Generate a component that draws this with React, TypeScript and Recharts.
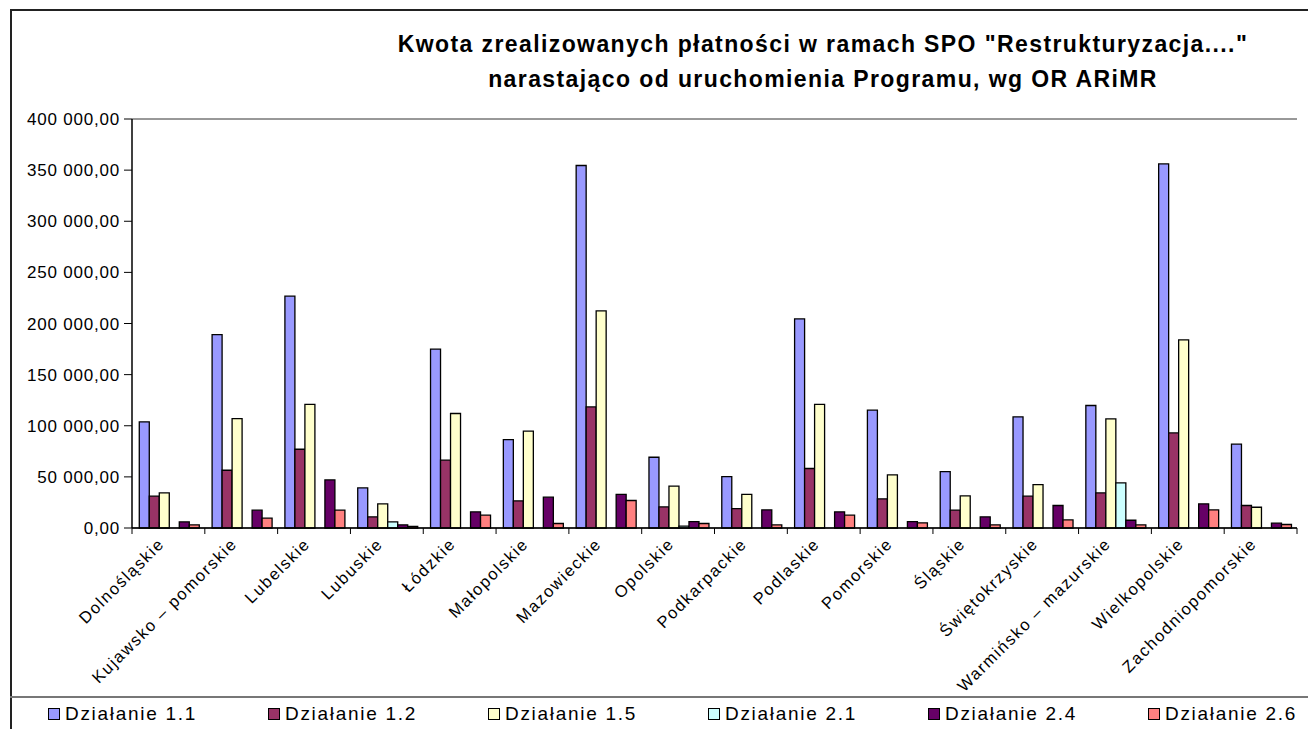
import React from 'react';
import { BarChart, Bar, XAxis, YAxis, CartesianGrid } from 'recharts';

const categories = [
  'Dolnośląskie', 'Kujawsko – pomorskie', 'Lubelskie', 'Lubuskie', 'Łódzkie',
  'Małopolskie', 'Mazowieckie', 'Opolskie', 'Podkarpackie', 'Podlaskie',
  'Pomorskie', 'Śląskie', 'Świętokrzyskie', 'Warmińsko – mazurskie',
  'Wielkopolskie', 'Zachodniopomorskie',
];

const dzialanie11 = [103800, 189200, 226700, 39200, 174900, 86500, 354500, 69200, 50300, 204500, 115200, 55200, 108700, 119800, 356100, 82000];
const dzialanie12 = [31100, 56500, 77000, 10900, 66300, 26500, 118400, 20600, 19000, 58200, 28500, 17400, 31100, 34300, 93000, 22000];
const dzialanie15 = [34300, 107000, 121000, 23600, 112000, 94700, 212300, 40900, 32800, 121000, 52000, 31400, 42500, 106700, 184000, 20300];
const dzialanie21 = [0, 0, 0, 6000, 0, 0, 0, 1800, 0, 0, 0, 0, 0, 44100, 0, 0];
const dzialanie24 = [6000, 17400, 47000, 3100, 15800, 30100, 32800, 6300, 17700, 15800, 6300, 10900, 22000, 7600, 23600, 4700];
const dzialanie26 = [3100, 9600, 17400, 1500, 12500, 4400, 26900, 4400, 3100, 12500, 5100, 3100, 7900, 3100, 17700, 3400];

const seriesNames = ['Działanie 1.1', 'Działanie 1.2', 'Działanie 1.5', 'Działanie 2.1', 'Działanie 2.4', 'Działanie 2.6'];
const seriesKeys = ['d11', 'd12', 'd15', 'd21', 'd24', 'd26'];
const seriesColors = ['#9999FF', '#993366', '#FFFFCC', '#CCFFFF', '#660066', '#FF8080'];
const seriesValues = [dzialanie11, dzialanie12, dzialanie15, dzialanie21, dzialanie24, dzialanie26];

const yTicks = [0, 50000, 100000, 150000, 200000, 250000, 300000, 350000, 400000];

const titleLines = [
  'Kwota zrealizowanych płatności w ramach SPO "Restrukturyzacja...."',
  'narastająco od uruchomienia Programu, wg OR ARiMR',
];

const data = categories.map((name, i) => {
  const row: Record<string, any> = { name };
  seriesKeys.forEach((k, j) => { row[k] = seriesValues[j][i]; });
  return row;
});

const FONT = '"Liberation Sans", Arial, sans-serif';

const fmt = (v: number) => {
  const s = Math.round(v).toString().replace(/\B(?=(\d{3})+(?!\d))/g, ' ');
  return s + ',00';
};

const CHART_W = 1308;
const CHART_H = 729;
const MARGIN = { top: 119, right: 11, left: 10, bottom: 31 };
const Y_W = 122;
const PLOT_W = CHART_W - MARGIN.left - MARGIN.right - Y_W;
const BAND = PLOT_W / categories.length;

const XTick = (props: any) => {
  const { x, y, payload, index } = props;
  const half = payload && typeof payload.offset === 'number' && payload.offset > 0 ? payload.offset : BAND / 2;
  const last = index === categories.length - 1;
  return (
    <g>
      <line x1={x - half} x2={x - half} y1={y} y2={y + 6} stroke="#000" strokeWidth={1} />
      {last && <line x1={x + half} x2={x + half} y1={y} y2={y + 6} stroke="#000" strokeWidth={1} />}
      <text
        x={0}
        y={0}
        transform={`translate(${x - 3},${y + 17}) rotate(-45)`}
        textAnchor="end"
        fill="#000"
        style={{ fontFamily: FONT, fontSize: 16.5, letterSpacing: 1.6 }}
      >
        {payload.value}
      </text>
    </g>
  );
};

export default function App() {
  return (
    <div style={{ position: 'absolute', left: 0, top: 0, width: CHART_W, height: CHART_H, background: '#fff', overflow: 'hidden' }}>
      <div style={{ position: 'absolute', left: 10, top: 9, width: 2, height: CHART_H - 9, background: '#222' }} />
      <div style={{ position: 'absolute', left: 10, top: 9, width: CHART_W - 10, height: 2, background: '#222' }} />
      <div style={{ position: 'absolute', left: 10, top: 696, width: CHART_W - 10, height: 2, background: '#777' }} />
      <div style={{ position: 'absolute', left: 323, width: 1000, top: 27, textAlign: 'center', fontFamily: FONT, fontWeight: 'bold', fontSize: 23, lineHeight: '35px', color: '#000', letterSpacing: 1.4 }}>
        {titleLines.map((t) => <div key={t}>{t}</div>)}
      </div>
      <div style={{ position: 'absolute', left: 0, top: 0 }}>
        <BarChart width={CHART_W} height={CHART_H} data={data} margin={MARGIN} barCategoryGap="10%" barGap={0}>
          <CartesianGrid vertical={false} stroke="#333" strokeWidth={1} />
          <XAxis
            dataKey="name"
            interval={0}
            height={170}
            tickLine={false}
            tickSize={0}
            tickMargin={0}
            axisLine={{ stroke: '#000', strokeWidth: 1.5 }}
            tick={<XTick />}
          />
          <YAxis
            yAxisId="left"
            width={Y_W}
            domain={[0, 400000]}
            ticks={yTicks}
            interval={0}
            tickFormatter={fmt}
            tickSize={8}
            tickMargin={4}
            axisLine={{ stroke: '#000', strokeWidth: 1.5 }}
            tickLine={{ stroke: '#000' }}
            tick={{ fill: '#000', fontFamily: FONT, fontSize: 17, letterSpacing: 0.8 }}
          />
          <YAxis yAxisId="right" orientation="right" width={0} tick={false} tickLine={false} axisLine={{ stroke: '#888', strokeWidth: 2 }} domain={[0, 400000]} />
          {seriesKeys.map((k, i) => (
            <Bar key={k} yAxisId="left" dataKey={k} name={seriesNames[i]} fill={seriesColors[i]} stroke="#000" strokeWidth={1.3} isAnimationActive={false} />
          ))}
        </BarChart>
      </div>
      <div style={{ position: 'absolute', left: 48, top: 703, display: 'flex' }}>
        {seriesNames.map((n, i) => (
          <div key={n} style={{ width: 220, display: 'flex', alignItems: 'center', fontFamily: FONT, fontSize: 19, letterSpacing: 1.7, color: '#000', lineHeight: '22px', whiteSpace: 'nowrap' }}>
            <span style={{ display: 'inline-block', width: 10, height: 10, background: seriesColors[i], border: '1px solid #000', marginRight: 5 }} />
            {n}
          </div>
        ))}
      </div>
    </div>
  );
}
